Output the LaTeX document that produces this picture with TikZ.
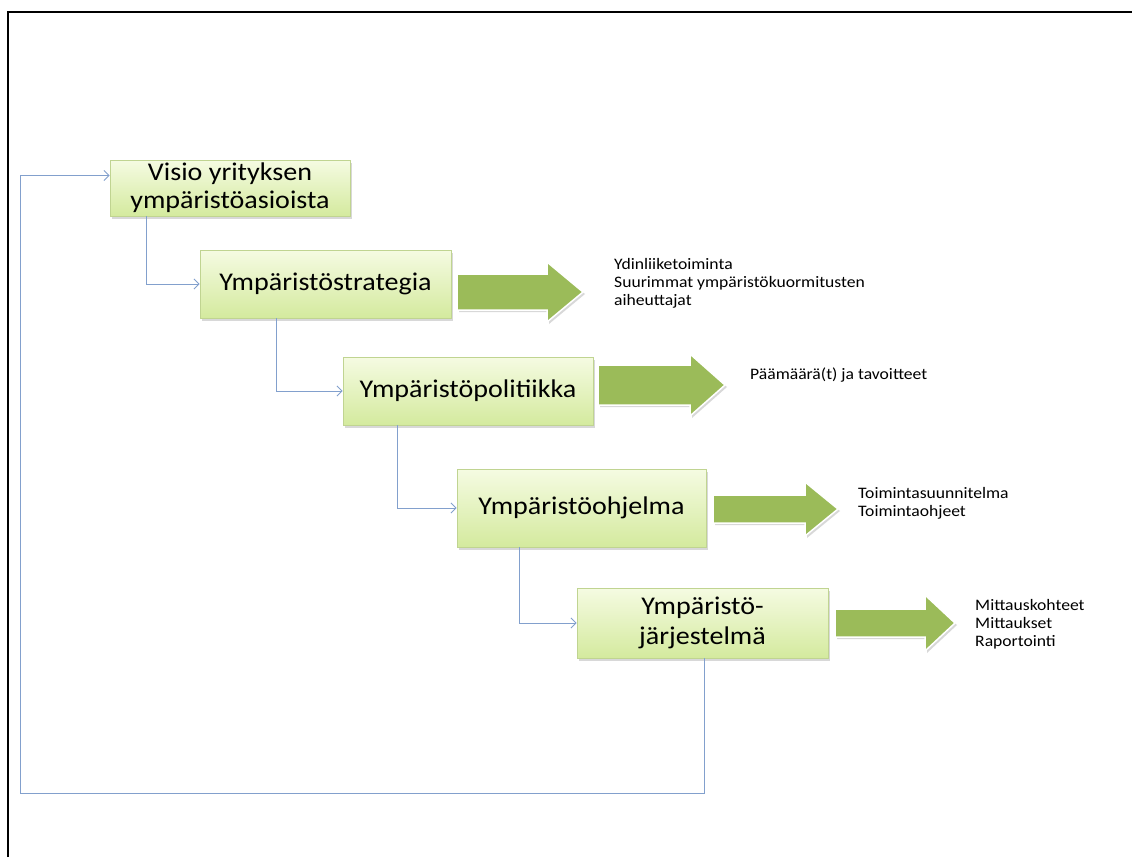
\documentclass[tikz,border=0pt]{standalone}
\usepackage{fontspec}
\setmainfont{Carlito}[FakeStretch=1.1]
\usetikzlibrary{shadows,arrows.meta}
\definecolor{connc}{RGB}{130,160,205}
\definecolor{boxtop}{RGB}{245,251,226}
\definecolor{boxbot}{RGB}{212,234,158}
\definecolor{boxline}{RGB}{192,212,145}
\definecolor{arrfill}{RGB}{155,187,89}
\newcommand\fatarrow[6]{%
  \filldraw[arrfill, draw=white, line width=1.5pt,
    drop shadow={shadow xshift=2pt, shadow yshift=-2pt, opacity=0.3}]
  (#1,#4-#5) -- (#2,#4-#5) -- (#2,#4-#6) -- (#3,#4) -- (#2,#4+#6)
  -- (#2,#4+#5) -- (#1,#4+#5) -- cycle;}
\begin{document}
\begin{tikzpicture}[x=1pt,y=-1pt,
  stepbox/.style={draw=boxline, line width=0.8pt, top color=boxtop,
    bottom color=boxbot, align=center, inner sep=0pt,
    font=\fontsize{25.5}{28}\selectfont,
    drop shadow={shadow xshift=2pt, shadow yshift=-2.5pt, opacity=0.3}},
  link/.style={draw=connc, line width=0.9pt,
    -{Straight Barb[length=5pt,width=10pt]}},
  note/.style={align=left, anchor=north west, inner sep=0pt,
    font=\fontsize{16}{18}\selectfont}]
\useasboundingbox (0,0) rectangle (1132,857);
\fill[white] (0,0) rectangle (1132,857);
\draw[line width=2.5pt] (8,857) -- (8,12) -- (1132,12);

\node[stepbox, minimum width=240pt, minimum height=56pt] (b1) at (230,188)
  {Visio yrityksen\\ympäristöasioista};
\node[stepbox, minimum width=251pt, minimum height=68pt] (b2) at (325.5,284)
  {Ympäristöstrategia};
\node[stepbox, minimum width=250pt, minimum height=68pt] (b3) at (468,391)
  {Ympäristöpolitiikka};
\node[stepbox, minimum width=249pt, minimum height=78pt] (b4) at (581.5,508)
  {Ympäristöohjelma};
\node[stepbox, minimum width=251pt, minimum height=70pt,
  font=\fontsize{25.5}{30}\selectfont] (b5) at (702.5,623)
  {Ympäristö-\\järjestelmä};

\draw[link] ([xshift=37pt]b1.south west) |- (b2.west);
\draw[link] ([xshift=77pt]b2.south west) |- (b3.west);
\draw[link] ([xshift=55pt]b3.south west) |- (b4.west);
\draw[link] ([xshift=63pt]b4.south west) |- (b5.west);
\coordinate (fb) at (20,793);
\draw[link] ([xshift=128pt]b5.south west) |- (fb) |- ([yshift=12.5pt]b1.west);

\fatarrow{457}{547}{583}{292}{18}{30}
\fatarrow{598}{690}{725}{385}{20}{31}
\fatarrow{713}{805}{838}{509}{14}{27}
\fatarrow{835}{925}{955}{623}{14}{28}

\node[note] (n1) at (614,258) {Ydinliiketoiminta\\Suurimmat ympäristökuormitusten\\aiheuttajat};
\node[note] (n2) at (750,368) {Päämäärä(t) ja tavoitteet};
\node[note] (n3) at (858,487) {Toimintasuunnitelma\\Toimintaohjeet};
\node[note] (n4) at (975,599) {Mittauskohteet\\Mittaukset\\Raportointi};
\end{tikzpicture}
\end{document}
